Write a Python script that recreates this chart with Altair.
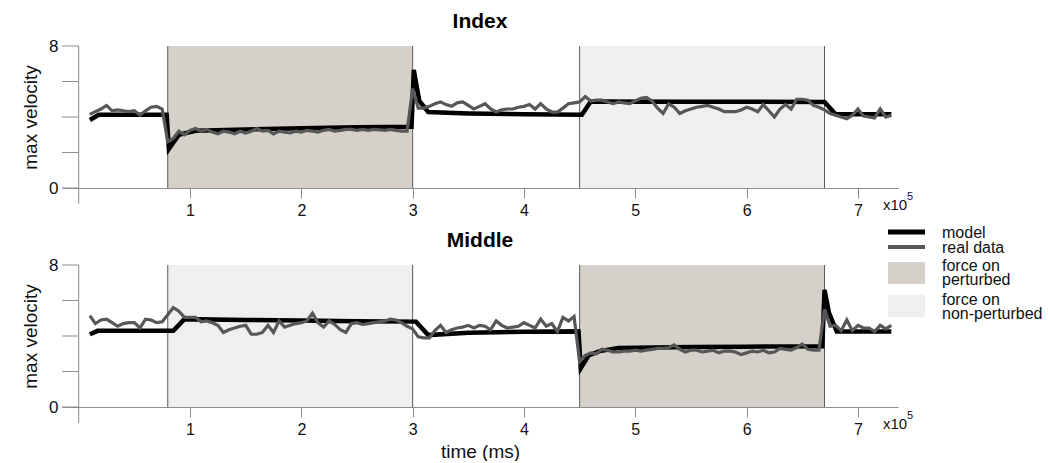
import altair as alt
import pandas as pd

# sampling grid of the recorded data (x 1e5 ms)
t_real = [round(0.10 + 0.05 * i, 2) for i in range(145)]

index_real = [
    4.15, 4.3, 4.45, 4.65, 4.35, 4.4, 4.35, 4.3, 4.35, 4.1,
    4.35, 4.55, 4.6, 4.45, 2.6, 2.8, 3.2, 3.0, 3.25, 3.35,
    3.2, 3.3, 3.15, 3.05, 3.2, 3.15, 3.05, 3.2, 3.1, 3.2,
    3.35, 3.2, 3.25, 3.05, 3.2, 3.15, 3.1, 3.2, 3.15, 3.25,
    3.2, 3.15, 3.25, 3.3, 3.2, 3.25, 3.3, 3.3, 3.25, 3.3,
    3.25, 3.3, 3.28, 3.25, 3.3, 3.25, 3.2, 3.2, 5.6, 4.5,
    4.5, 4.6, 4.75, 4.85, 4.7, 4.6, 4.8, 4.85, 4.65, 4.45,
    4.6, 4.75, 4.45, 4.28, 4.4, 4.45, 4.45, 4.55, 4.6, 4.7,
    4.45, 4.75, 4.45, 4.28, 4.28, 4.5, 4.75, 4.8, 4.85, 5.15,
    4.9, 4.95, 4.95, 4.85, 4.75, 4.85, 4.8, 4.75, 4.9, 5.05,
    5.1, 4.9, 4.5, 4.2, 4.75, 4.55, 4.2, 4.35, 4.45, 4.55,
    4.6, 4.65, 4.55, 4.45, 4.3, 4.3, 4.3, 4.4, 4.55, 4.45,
    4.3, 4.7, 4.35, 4.0, 4.45, 4.7, 4.45, 5.0, 5.0, 4.95,
    4.65, 4.55, 4.4, 4.2, 4.1, 4.0, 3.9, 4.1, 4.45, 4.05,
    4.0, 3.95, 4.45, 4.0, 4.1,
]

middle_real = [
    5.15, 4.7, 4.9, 4.95, 4.75, 4.55, 4.7, 4.75, 4.75, 4.45,
    4.95, 4.9, 4.75, 4.8, 5.2, 5.6, 5.4, 5.05, 5.05, 5.05,
    4.8, 4.85, 4.75, 4.6, 4.2, 4.35, 4.45, 4.55, 4.6, 4.1,
    4.1, 4.2, 4.6, 4.2, 4.85, 4.5, 4.6, 4.7, 4.75, 4.85,
    5.28, 4.75, 4.5, 4.85, 4.65, 4.35, 4.2, 4.7, 4.75, 4.65,
    4.7, 4.75, 4.8, 4.85, 4.95, 4.9, 4.75, 4.55, 4.4, 3.95,
    3.9, 3.9, 4.3, 4.6, 4.2, 4.35, 4.45, 4.5, 4.6, 4.45,
    4.6, 4.55, 4.35, 4.85, 4.6, 4.45, 4.5, 4.55, 4.75, 4.6,
    4.45, 4.95, 4.55, 4.7, 4.25, 5.05, 4.85, 5.1, 2.55, 2.9,
    3.05, 3.0, 3.25, 3.2, 3.1, 3.1, 3.15, 3.15, 3.2, 3.15,
    3.2, 3.25, 3.3, 3.3, 3.35, 3.5, 3.25, 3.1, 3.2, 3.2,
    3.1, 3.15, 3.2, 3.05, 3.15, 3.15, 3.1, 2.95, 3.05, 3.15,
    3.1, 3.2, 3.05, 3.1, 3.3, 3.25, 3.2, 3.35, 3.55, 3.25,
    3.2, 3.2, 5.5, 4.55, 4.6, 4.3, 4.9, 4.3, 4.6, 4.45,
    4.45, 4.25, 4.6, 4.4, 4.6,
]

index_model_t = [0.10, 0.18, 0.79, 0.81, 0.90, 1.05, 1.50, 2.00, 2.50, 2.99, 3.01,
                 3.06, 3.14, 3.50, 4.00, 4.52, 4.60, 5.50, 6.70, 6.80, 7.30]
index_model_v = [3.83, 4.12, 4.12, 2.2, 3.0, 3.22, 3.3, 3.36, 3.42, 3.45, 6.65,
                 4.9, 4.28, 4.2, 4.15, 4.13, 4.88, 4.86, 4.85, 4.15, 4.15]

middle_model_t = [0.10, 0.17, 0.85, 0.95, 1.50, 2.00, 2.50, 3.03, 3.14, 3.50, 4.00, 4.49,
                  4.51, 4.58, 4.68, 4.85, 5.50, 6.00, 6.68, 6.70, 6.74, 6.81, 7.30]
middle_model_v = [4.1, 4.29, 4.29, 4.95, 4.9, 4.87, 4.83, 4.81, 4.05, 4.18, 4.24, 4.26,
                  2.18, 2.9, 3.15, 3.32, 3.38, 3.4, 3.42, 6.6, 5.3, 4.25, 4.25]

# force epochs (start, end) per finger
index_perturbed = (0.8, 3.0)
index_nonperturbed = (4.5, 6.7)
middle_perturbed = (4.5, 6.7)
middle_nonperturbed = (0.8, 3.0)

x_ticks = [1, 2, 3, 4, 5, 6, 7]
y_labels = [0, 8]
y_minor = [0, 2, 4, 6, 8]

BEIGE = "#d5d1ca"
LIGHT = "#efefef"
AXIS_GREY = "#8c8c8c"
EDGE = "#5a5a5a"
REAL = "#575757"
FONT = "Liberation Sans"

W, H = 836, 142
X_MIN, X_MAX = -0.15, 7.36

x_scale = alt.Scale(domain=[X_MIN, X_MAX], nice=False, zero=False)
y_scale = alt.Scale(domain=[0, 8], nice=False, zero=False)

one_row = pd.DataFrame({"k": [0]})


def text_at(x, y, txt, size=16):
    return alt.Chart(one_row).mark_text(
        align="left", baseline="alphabetic", fontSize=size, font=FONT, color="#111111"
    ).encode(x=alt.value(x), y=alt.value(y), text=alt.value(txt))


def panel(name, model_t, model_v, real_v, perturbed, nonperturbed, x_title, with_legend):
    spans = pd.DataFrame({
        "start": [perturbed[0], nonperturbed[0]],
        "end": [perturbed[1], nonperturbed[1]],
        "kind": ["perturbed", "non-perturbed"],
        "lo": [0, 0],
        "hi": [8, 8],
    })
    x_axis = alt.Axis(
        values=x_ticks, format="d", title=x_title, grid=False,
        domainColor=AXIS_GREY, tickColor=AXIS_GREY, tickSize=10,
        labelFontSize=16, labelPadding=4, labelColor="#111111", labelFont=FONT,
        titleFontSize=19, titleFontWeight="normal", titleColor="#111111",
        titleFont=FONT, titlePadding=5,
    )
    y_axis = alt.Axis(
        values=y_labels, format="d", title="max velocity", grid=False, ticks=False,
        domain=False, labelFontSize=17, labelPadding=4, labelColor="#111111",
        labelFont=FONT, titleFontSize=19, titleFontWeight="normal",
        titleColor="#111111", titleFont=FONT, titlePadding=8,
    )
    rects = alt.Chart(spans).mark_rect().encode(
        x=alt.X("start:Q", scale=x_scale, axis=x_axis),
        x2="end:Q",
        y=alt.Y("lo:Q", scale=y_scale, axis=y_axis),
        y2="hi:Q",
        color=alt.Color("kind:N", scale=alt.Scale(domain=["perturbed", "non-perturbed"],
                                                 range=[BEIGE, LIGHT]), legend=None),
    )
    edge_a = alt.Chart(spans).mark_rule(color=EDGE, strokeWidth=1).encode(
        x="start:Q", y="lo:Q", y2="hi:Q")
    edge_b = alt.Chart(spans).mark_rule(color=EDGE, strokeWidth=1).encode(
        x="end:Q", y="lo:Q", y2="hi:Q")

    ticks_df = pd.DataFrame({"v": y_minor, "a": [X_MIN] * len(y_minor), "b": [0] * len(y_minor)})
    yticks = alt.Chart(ticks_df).mark_rule(color=AXIS_GREY, strokeWidth=1).encode(
        x="a:Q", x2="b:Q", y="v:Q")
    yline = alt.Chart(pd.DataFrame({"x0": [0], "lo": [-0.9], "hi": [8]})).mark_rule(
        color=AXIS_GREY, strokeWidth=1).encode(x="x0:Q", y="lo:Q", y2="hi:Q")

    model = alt.Chart(pd.DataFrame({"t": model_t, "v": model_v})).mark_line(
        color="#000000", strokeWidth=4.5).encode(x="t:Q", y="v:Q")
    real = alt.Chart(pd.DataFrame({"t": t_real, "v": real_v})).mark_line(
        color=REAL, strokeWidth=3.2).encode(x="t:Q", y="v:Q")

    layers = [rects, edge_a, edge_b, yticks, yline, model, real,
              text_at(821, 164, "x10", size=15), text_at(845, 154, "5", size=11)]

    if with_legend:
        layers += [
            alt.Chart(one_row).mark_rule(color="#000000", strokeWidth=5).encode(
                x=alt.value(826), x2=alt.value(863), y=alt.value(186)),
            alt.Chart(one_row).mark_rule(color=REAL, strokeWidth=4).encode(
                x=alt.value(826), x2=alt.value(863), y=alt.value(201)),
            alt.Chart(one_row).mark_rect(color=BEIGE).encode(
                x=alt.value(826), x2=alt.value(863), y=alt.value(216), y2=alt.value(238)),
            alt.Chart(one_row).mark_rect(color=LIGHT).encode(
                x=alt.value(826), x2=alt.value(863), y=alt.value(249), y2=alt.value(271)),
            text_at(880, 192, "model"),
            text_at(880, 207, "real data"),
            text_at(880, 225, "force on"),
            text_at(880, 239, "perturbed"),
            text_at(880, 259, "force on"),
            text_at(880, 273, "non-perturbed"),
        ]

    return alt.layer(*layers).properties(
        width=W, height=H,
        title=alt.TitleParams(name, fontSize=21, fontWeight="bold", font=FONT,
                              anchor="middle", frame="group", offset=5, color="#000000"),
    )


top = panel("Index", index_model_t, index_model_v, index_real,
            index_perturbed, index_nonperturbed, "", True)
bottom = panel("Middle", middle_model_t, middle_model_v, middle_real,
               middle_perturbed, middle_nonperturbed, "time (ms)", False)

chart = alt.vconcat(top, bottom, spacing=77, bounds="flush").properties(
    padding={"left": 21, "top": 11, "right": 0, "bottom": 0}
).configure(font=FONT).configure_view(strokeWidth=0)

chart.save("out.html", embed_options={"renderer": "svg", "actions": False})
